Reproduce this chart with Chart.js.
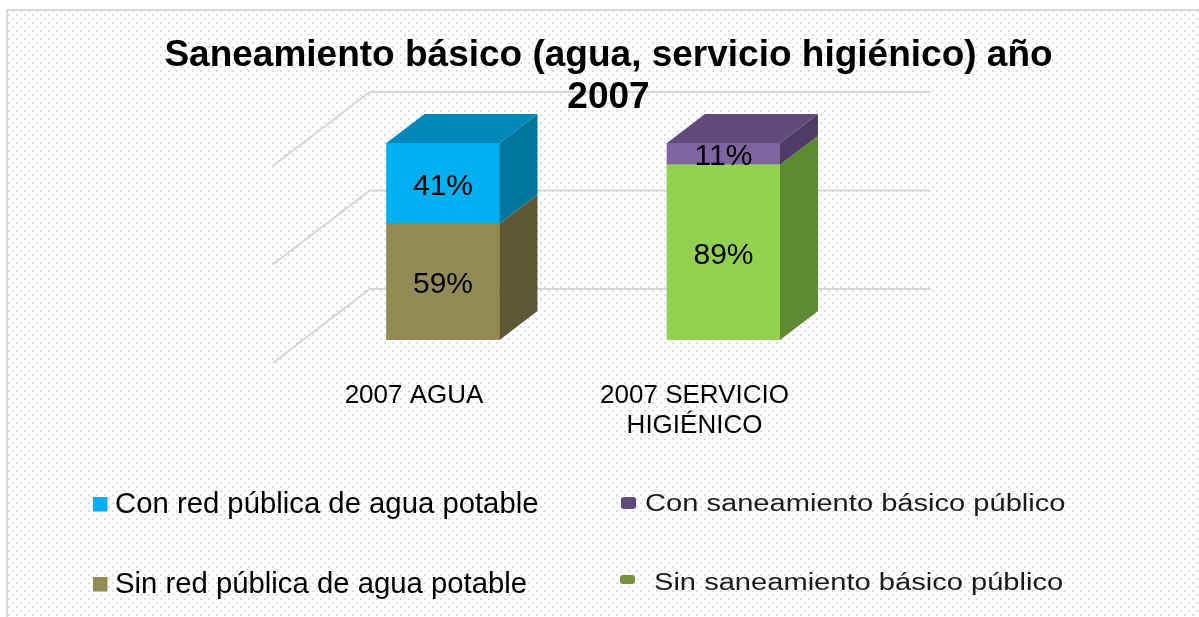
<!DOCTYPE html>
<html>
<head>
<meta charset="utf-8">
<script src="https://cdn.jsdelivr.net/npm/chart.js@4.4.0/dist/chart.umd.min.js"></script>
<style>
  html, body { margin: 0; padding: 0; background: #fff; }
  canvas { display: block; }
</style>
</head>
<body>
<canvas id="chart" width="1199" height="617"></canvas>
<script>
// data
const categories = ['2007 AGUA', ['2007 SERVICIO', 'HIGIÉNICO']];
const sinRedAgua = [59, null];
const conRedAgua = [41, null];
const sinSaneamiento = [null, 89];
const conSaneamiento = [null, 11];
const gridValues = [0, 50, 100];
const titleLines = ['Saneamiento básico (agua, servicio higiénico) año', '2007'];

const FONT = '"Liberation Sans", Arial, sans-serif';
// 3D depth of a bar and of the back wall (pixels)
const BAR_DX = 38, BAR_DY = -29;
const WALL_DX = 67, WALL_DY = -51;
const WALL_FRONT_DX = -30, WALL_FRONT_DY = 23;

// dotted background pattern
const dots = document.createElement('canvas');
dots.width = 8; dots.height = 8;
const dctx = dots.getContext('2d');
dctx.fillStyle = '#d3deef';
dctx.fillRect(0, 6, 2, 2);
dctx.fillRect(4, 2, 2, 2);

const backdrop = {
  id: 'backdrop',
  beforeDraw(chart) {
    const ctx = chart.ctx;
    ctx.save();
    ctx.fillStyle = '#fff';
    ctx.fillRect(0, 0, chart.width, chart.height);
    ctx.fillStyle = ctx.createPattern(dots, 'repeat');
    ctx.fillRect(8, 11, chart.width - 8, chart.height - 11);
    ctx.strokeStyle = '#d9d9d9';
    ctx.lineWidth = 2;
    ctx.beginPath();
    ctx.moveTo(7, chart.height);
    ctx.lineTo(7, 10);
    ctx.lineTo(chart.width, 10);
    ctx.stroke();
    ctx.restore();
  },
  beforeDatasetsDraw(chart) {
    const ctx = chart.ctx;
    const y = chart.scales.y;
    const area = chart.chartArea;
    ctx.save();
    ctx.strokeStyle = '#d6d6d6';
    ctx.lineWidth = 2;
    gridValues.forEach(v => {
      const py = y.getPixelForValue(v);
      ctx.beginPath();
      ctx.moveTo(area.left + WALL_FRONT_DX, py + WALL_FRONT_DY);
      ctx.lineTo(area.left + WALL_DX, py + WALL_DY);
      ctx.lineTo(area.right + WALL_DX, py + WALL_DY);
      ctx.stroke();
    });
    ctx.restore();
  },
  afterDraw(chart) {
    // title on top of the wall lines
    const ctx = chart.ctx;
    ctx.save();
    ctx.fillStyle = '#000';
    ctx.font = 'bold 37px ' + FONT;
    ctx.textAlign = 'center';
    ctx.textBaseline = 'alphabetic';
    ctx.fillText(titleLines[0], 608.5, 66);
    ctx.fillText(titleLines[1], 608.5, 108);
    ctx.restore();
  }
};

function shade(ctx, pts, color) {
  ctx.fillStyle = color;
  ctx.beginPath();
  ctx.moveTo(pts[0][0], pts[0][1]);
  for (let i = 1; i < pts.length; i++) ctx.lineTo(pts[i][0], pts[i][1]);
  ctx.closePath();
  ctx.fill();
}

const bars3d = {
  id: 'bars3d',
  afterDatasetsDraw(chart) {
    const ctx = chart.ctx;
    ctx.save();
    chart.data.datasets.forEach((ds, di) => {
      const meta = chart.getDatasetMeta(di);
      meta.data.forEach((bar, i) => {
        if (ds.data[i] == null) return;
        const { x, y, base, width } = bar.getProps(['x', 'y', 'base', 'width'], true);
        const l = x - width / 2, r = x + width / 2;
        shade(ctx, [[r, y], [r + BAR_DX, y + BAR_DY], [r + BAR_DX, base + BAR_DY], [r, base]], ds.sideColor);
        // top face on the last segment of the stack
        const later = chart.data.datasets.slice(di + 1).some(d => d.data[i] != null);
        if (!later) {
          shade(ctx, [[l, y], [l + BAR_DX, y + BAR_DY], [r + BAR_DX, y + BAR_DY], [r, y]], ds.topColor);
        }
        ctx.fillStyle = '#000';
        ctx.font = '30px ' + FONT;
        ctx.textAlign = 'center';
        ctx.textBaseline = 'middle';
        ctx.fillText(ds.data[i] + '%', x, (y + base) / 2 + 3);
      });
    });

    // category labels
    const xs = chart.scales.x;
    ctx.font = '26px ' + FONT;
    ctx.textAlign = 'center';
    ctx.textBaseline = 'alphabetic';
    ctx.fillStyle = '#000';
    categories.forEach((c, i) => {
      const px = xs.getPixelForValue(i) - 29;
      const lines = Array.isArray(c) ? c : [c];
      lines.forEach((t, k) => ctx.fillText(t, px, 403 + k * 30));
    });
    ctx.restore();
  }
};

const legend2col = {
  id: 'legend2col',
  afterDraw(chart) {
    const ctx = chart.ctx;
    const ds = chart.data.datasets;
    ctx.save();
    ctx.textBaseline = 'alphabetic';
    ctx.textAlign = 'left';
    // left column
    ctx.font = '29.3px ' + FONT;
    [[1, 497, 513], [0, 577, 593]].forEach(([di, my, ty]) => {
      ctx.fillStyle = ds[di].legendColor;
      ctx.fillRect(93, my, 14.5, 14.5);
      ctx.fillStyle = '#000';
      ctx.fillText(ds[di].label, 115, ty);
    });
    // right column (stretched text, rounded markers)
    [[3, 621, 497, 15, 12, 645, 511], [2, 620, 575, 15, 9, 654, 590]].forEach(([di, mx, my, mw, mh, tx, ty]) => {
      ctx.fillStyle = ds[di].legendColor;
      ctx.beginPath();
      ctx.roundRect(mx, my, mw, mh, 3);
      ctx.fill();
      ctx.save();
      ctx.translate(tx, ty);
      ctx.scale(1.265, 1);
      ctx.font = '23px ' + FONT;
      ctx.fillStyle = '#1a1a1a';
      ctx.fillText(ds[di].label, 0, 0);
      ctx.restore();
    });
    ctx.restore();
  }
};

new Chart(document.getElementById('chart'), {
  type: 'bar',
  data: {
    labels: categories,
    datasets: [
      { label: 'Sin red pública de agua potable', data: sinRedAgua,
        backgroundColor: '#948a54', sideColor: '#5e5837', topColor: '#7a7246', legendColor: '#948a54' },
      { label: 'Con red pública de agua potable', data: conRedAgua,
        backgroundColor: '#00b0f0', sideColor: '#00769e', topColor: '#0088b8', legendColor: '#00b0f0' },
      { label: 'Sin saneamiento básico público', data: sinSaneamiento,
        backgroundColor: '#92d050', sideColor: '#5f8a34', topColor: '#76a83f', legendColor: '#77933c' },
      { label: 'Con saneamiento básico público', data: conSaneamiento,
        backgroundColor: '#8064a2', sideColor: '#4f3c66', topColor: '#604a7b', legendColor: '#604a7b' }
    ]
  },
  options: {
    responsive: false,
    animation: false,
    layout: { padding: { left: 302.75, right: 335.25, top: 143, bottom: 277 } },
    datasets: { bar: { barThickness: 113, borderWidth: 0 } },
    plugins: { legend: { display: false }, title: { display: false }, tooltip: { enabled: false } },
    scales: {
      x: { display: false, stacked: true },
      y: { display: false, stacked: true, min: 0, max: 100 }
    }
  },
  plugins: [backdrop, bars3d, legend2col]
});
</script>
</body>
</html>
